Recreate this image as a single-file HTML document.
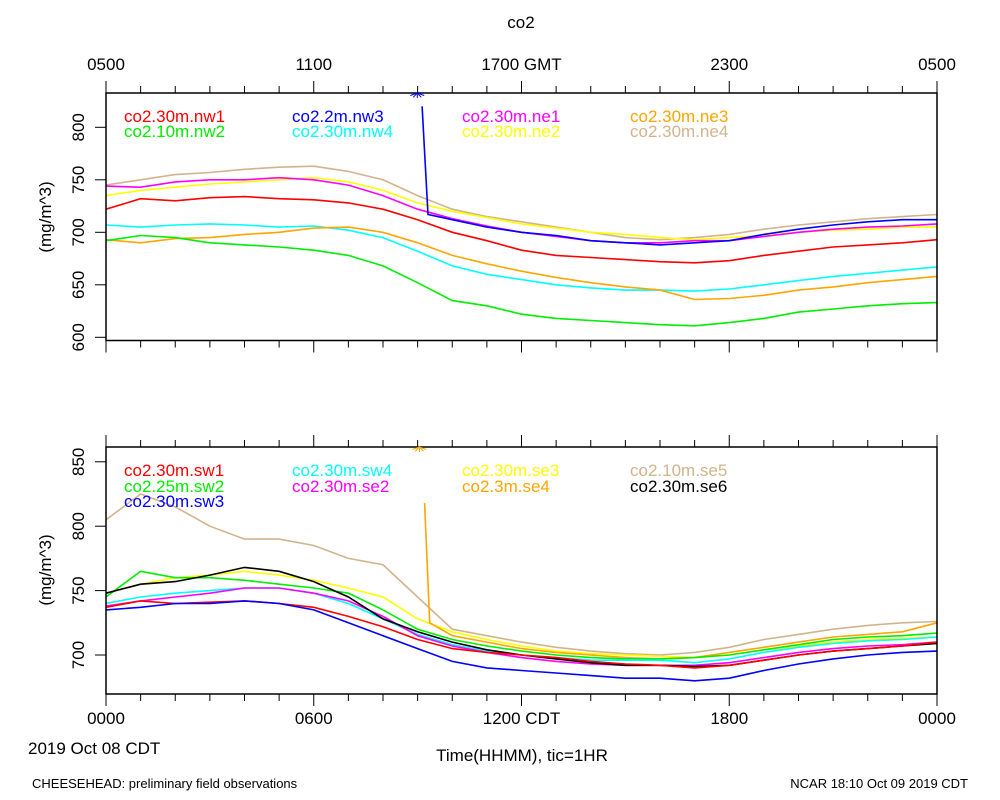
<!DOCTYPE html>
<html><head><meta charset="utf-8"><style>
body{margin:0;background:#fff}
svg{display:block;font-family:"Liberation Sans",sans-serif}
</style></head><body>
<svg id="c" width="1000" height="800"></svg>
<script>
const hours=[0,1,2,3,4,5,6,7,8,9,10,11,12,13,14,15,16,17,18,19,20,21,22,23,24];
const nw1=[722,732,730,733,734,732,731,728,722,712,700,692,683,678,676,674,672,671,673,678,682,686,688,690,693];
const nw2=[692,697,695,690,688,686,683,678,668,652,635,630,622,618,616,614,612,611,614,618,624,627,630,632,633];
const nw3Times=[9.13,9.3,10,11,12,13,14,15,16,17,18,19,20,21,22,23,24];
const nw3=[820,717,712,705,700,697,692,690,688,690,692,698,703,707,710,712,712];
const nw4=[707,705,707,708,707,705,706,702,695,682,668,660,655,650,647,645,645,644,646,650,654,658,661,664,667];
const ne1=[744,743,748,750,750,752,750,745,735,722,713,706,700,696,692,690,690,692,692,696,700,703,705,706,708];
const ne2=[735,740,743,746,748,750,752,748,740,728,720,714,708,704,700,698,695,693,695,697,700,702,703,705,705];
const ne3=[693,690,694,695,698,700,704,705,700,690,678,670,663,657,652,648,645,636,637,640,645,648,652,655,658];
const ne4=[745,750,755,757,760,762,763,758,750,735,722,715,710,705,700,695,693,695,698,703,707,710,713,715,717];
const sw1=[737,742,740,741,742,740,737,730,722,712,705,702,700,698,695,693,692,690,692,696,700,703,705,707,710];
const sw2=[745,765,760,760,758,755,752,748,735,720,712,707,703,700,698,697,697,698,700,704,708,712,714,715,717];
const sw3=[735,737,740,740,742,740,735,725,715,705,695,690,688,686,684,682,682,680,682,688,693,697,700,702,703];
const sw4=[740,745,748,750,752,752,748,740,728,716,708,703,700,698,696,696,696,694,697,702,706,709,711,712,714];
const se2=[738,742,745,748,752,752,748,742,730,715,707,702,698,695,693,692,692,692,694,698,702,705,707,708,710];
const se3=[748,755,760,762,765,762,758,752,745,728,718,712,707,703,701,700,699,698,700,704,707,710,712,713,714];
const se4Times=[9.2,9.35,10,11,12,13,14,15,16,17,18,19,20,21,22,23,24];
const se4=[818,725,715,710,705,702,700,698,697,698,702,706,710,714,716,718,725];
const se5=[805,825,815,800,790,790,785,775,770,745,720,715,710,706,703,701,700,702,706,712,716,720,723,725,726];
const se6=[748,755,757,762,768,765,757,745,728,718,710,704,700,697,694,692,692,691,692,696,700,703,705,707,709];
const yTicks1=[600,650,700,750,800];
const yTicks2=[700,750,800,850];
const topLabels=["0500","1100","1700 GMT","2300","0500"];
const botLabels=["0000","0600","1200 CDT","1800","0000"];

const svg=document.getElementById('c');const NS='http://www.w3.org/2000/svg';
function mk(t,a,p){const e=document.createElementNS(NS,t);for(const k in a)e.setAttribute(k,a[k]);(p||svg).appendChild(e);return e;}
const X0=106,X1=937;
const x=h=>X0+(X1-X0)*h/24;
const P1={top:93,bot:340.5,y:v=>232.3-(v-700)*52.5/50};
const P2={top:447,bot:694,y:v=>655-(v-700)*64.4/50};
function txt(s,xx,yy,size,anchor,col,name,rot){const e=mk('text',{x:xx,y:yy,'font-size':size,'text-anchor':anchor||'start',fill:col||'#000'});if(rot)e.setAttribute('transform',`rotate(-90 ${xx} ${yy})`);e.textContent=s;return e;}
function frame(P,ticks,name){
  const g=mk('g',{});
  for(let h=0;h<=24;h++){const xx=x(h);const L=(h%6==0)?12:7;
    mk('line',{x1:xx,x2:xx,y1:P.top,y2:P.top-L,stroke:'#000','stroke-width':1},g);
    mk('line',{x1:xx,x2:xx,y1:P.bot,y2:P.bot+L,stroke:'#000','stroke-width':1},g);}
  ticks.forEach(v=>{const yy=P.y(v);mk('line',{x1:X0-11,x2:X0,y1:yy,y2:yy,stroke:'#000'},g);
    const t=txt(String(v),84,yy,17,'middle','#000','y-tick-label');t.setAttribute('transform',`rotate(-90 84 ${yy})`);});
  return g;}
function series(P,ts,vs,col,name){let d='';let pen=false;
  vs.forEach((v,i)=>{if(v==null){pen=false;return;}d+=(pen?'L':'M')+x(ts[i]).toFixed(1)+','+P.y(v).toFixed(1);pen=true;});
  const e=mk('path',{d:d,fill:'none',stroke:col,'stroke-width':1.6});}
txt('co2',521,28,17,'middle','#000','chart-title');
topLabels.forEach((s,i)=>txt(s,x(i*6),70,17,'middle','#000','top-x-tick-label'));
botLabels.forEach((s,i)=>txt(s,x(i*6),724,17,'middle','#000','bottom-x-tick-label'));
txt('2019 Oct 08 CDT',28,754,17,'start','#000','date-label');
txt('Time(HHMM), tic=1HR',522,761,17,'middle','#000','x-axis-title');
txt('CHEESEHEAD: preliminary field observations',32,788,13,'start','#000','footer-left');
txt('NCAR 18:10 Oct 09 2019 CDT',968,788,13,'end','#000','footer-right');
txt('(mg/m^3)',51,217,17,'middle','#000','y-axis-title-top',true);
txt('(mg/m^3)',51,570,17,'middle','#000','y-axis-title-bottom',true);
frame(P1,yTicks1,'top-axes');frame(P2,yTicks2,'bottom-axes');
series(P1,hours,ne4,'#d2b48c','line-ne4');series(P1,hours,ne2,'#ffff00','line-ne2');
series(P1,hours,ne1,'#ff00ff','line-ne1');series(P1,hours,nw1,'#ff0000','line-nw1');
series(P1,hours,nw4,'#00ffff','line-nw4');series(P1,hours,ne3,'#ffa500','line-ne3');
series(P1,hours,nw2,'#00ee00','line-nw2');series(P1,nw3Times,nw3,'#0000ff','line-nw3');
series(P2,hours,se5,'#d2b48c','line-se5');series(P2,hours,se3,'#ffff00','line-se3');
series(P2,se4Times,se4,'#ffa500','line-se4');series(P2,hours,sw2,'#00ee00','line-sw2');
series(P2,hours,sw4,'#00ffff','line-sw4');series(P2,hours,se2,'#ff00ff','line-se2');
series(P2,hours,se6,'#000000','line-se6');series(P2,hours,sw1,'#ff0000','line-sw1');
series(P2,hours,sw3,'#0000ff','line-sw3');
[P1,P2].forEach((P,i)=>{const r=mk('rect',{x:X0,y:P.top,width:X1-X0,height:P.bot-P.top,fill:'none',stroke:'#000','stroke-width':1.5});});
function star(xx,yy,col,name){const g=mk('g',{stroke:col,'stroke-width':1});
  for(let a=-60;a<=60;a+=30){const r=a*Math.PI/180;mk('line',{x1:xx,y1:yy,x2:xx+8*Math.sin(r),y2:yy+5*Math.cos(r)},g);}}
star(x(8.99),P1.top,'#0000ff','offscale-marker-nw3');star(x(9.05),P2.top,'#ffa500','offscale-marker-se4');
function leg(s,col,xx,yy){txt(s,xx,yy,17,'start',col,'legend-entry');}
leg('co2.30m.nw1','#ff0000',124,122);leg('co2.10m.nw2','#00ee00',124,137);
leg('co2.2m.nw3','#0000ff',292,122);leg('co2.30m.nw4','#00ffff',292,137);
leg('co2.30m.ne1','#ff00ff',462,122);leg('co2.30m.ne2','#ffff00',462,137);
leg('co2.30m.ne3','#ffa500',630,122);leg('co2.30m.ne4','#d2b48c',630,137);
leg('co2.30m.sw1','#ff0000',124,476);leg('co2.25m.sw2','#00ee00',124,492);leg('co2.30m.sw3','#0000ff',124,507);
leg('co2.30m.sw4','#00ffff',292,476);leg('co2.30m.se2','#ff00ff',292,492);
leg('co2.30m.se3','#ffff00',462,476);leg('co2.3m.se4','#ffa500',462,492);
leg('co2.10m.se5','#d2b48c',630,476);leg('co2.30m.se6','#000000',630,492);
</script>
</body></html>
